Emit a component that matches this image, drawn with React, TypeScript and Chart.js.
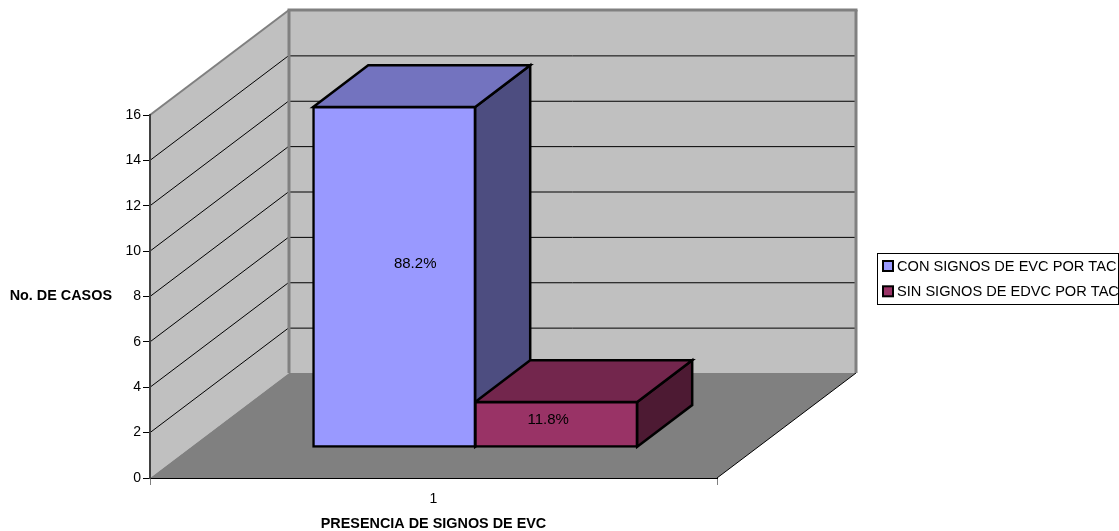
import React, { useEffect, useRef } from "react";
import { Chart, registerables } from "chart.js";

Chart.register(...registerables);

const categories = ["1"];
const conSignos = [15];
const sinSignos = [2];
const seriesNames = ["CON SIGNOS DE EVC POR TAC", "SIN SIGNOS DE EDVC POR TAC"];
const yTitle = "No. DE CASOS";
const xTitle = "PRESENCIA DE SIGNOS DE EVC";

const FONT = '"Liberation Sans", Arial, sans-serif';

// Oblique projection of the 3D box the chart sits in.
const WALL_DX = 139;
const WALL_DY = 105;
// Bars stand part way back on the floor and have their own depth.
const BAR_SHIFT_X = 41.7;
const BAR_SHIFT_Y = 30.7;
const BAR_DX = 55;
const BAR_DY = 41.7;

const faces = [
  { front: "#9999FF", top: "#7373BF", side: "#4D4D80" },
  { front: "#993366", top: "#73264D", side: "#4D1A33" },
];

// Percentage labels sit slightly off the centre of each front face.
const labelNudgeX = [21, -8];
const labelNudgeY = [-13, -5];

function poly(ctx: CanvasRenderingContext2D, pts: number[][], fill: string | null, stroke: string | null, lw = 1) {
  ctx.beginPath();
  pts.forEach(([x, y], i) => (i ? ctx.lineTo(x, y) : ctx.moveTo(x, y)));
  ctx.closePath();
  if (fill) {
    ctx.fillStyle = fill;
    ctx.fill();
  }
  if (stroke) {
    ctx.strokeStyle = stroke;
    ctx.lineWidth = lw;
    ctx.lineJoin = "miter";
    ctx.stroke();
  }
}

function line(ctx: CanvasRenderingContext2D, x0: number, y0: number, x1: number, y1: number, color: string, lw: number) {
  ctx.beginPath();
  ctx.moveTo(x0, y0);
  ctx.lineTo(x1, y1);
  ctx.strokeStyle = color;
  ctx.lineWidth = lw;
  ctx.stroke();
}

const box3d = {
  id: "box3d",
  // Walls, floor and gridlines behind the axes.
  beforeDraw(chart: any) {
    const { ctx, scales } = chart;
    const yScale = scales.y;
    const L = scales.x.left;
    const R = scales.x.right;
    const y0 = yScale.getPixelForValue(0);
    const yMax = yScale.getPixelForValue(16);
    ctx.save();
    ctx.fillStyle = "#FFFFFF";
    ctx.fillRect(0, 0, chart.width, chart.height);

    const bL = L + WALL_DX;
    const bR = R + WALL_DX;
    const bTop = yMax - WALL_DY;
    const bBot = y0 - WALL_DY;

    poly(ctx, [[L, yMax], [bL, bTop], [bL, bBot], [L, y0]], "#C0C0C0", null);
    poly(ctx, [[bL, bTop], [bR, bTop], [bR, bBot], [bL, bBot]], "#C0C0C0", null);
    poly(ctx, [[L, y0], [R, y0], [bR, bBot], [bL, bBot]], "#808080", null);
    line(ctx, R, y0, bR, bBot, "#000000", 1);

    yScale.ticks.forEach((t: any) => {
      if (t.value === 0 || t.value === 16) return;
      const y = yScale.getPixelForValue(t.value);
      line(ctx, L, y, bL, y - WALL_DY, "#000000", 1);
      line(ctx, bL, y - WALL_DY + 0.5, bR, y - WALL_DY + 0.5, "#000000", 1);
    });

    line(ctx, L, yMax, bL, bTop, "#808080", 2);
    line(ctx, bL - 1.5, bTop, bR + 1.5, bTop, "#808080", 3);
    line(ctx, bL, bTop, bL, bBot, "#808080", 3);
    line(ctx, bR, bTop, bR, bBot, "#808080", 3);
    ctx.restore();
  },
  // Side and top faces go down first; the library then paints the fronts over them.
  beforeDatasetsDraw(chart: any) {
    const { ctx } = chart;
    ctx.save();
    chart.data.datasets.forEach((_: any, i: number) => {
      chart.getDatasetMeta(i).data.forEach((bar: any) => {
        const half = bar.width / 2;
        const l = bar.x - half + BAR_SHIFT_X;
        const r = bar.x + half + BAR_SHIFT_X;
        const t = bar.y - BAR_SHIFT_Y;
        const b = bar.base - BAR_SHIFT_Y;
        poly(ctx, [[r, t], [r + BAR_DX, t - BAR_DY], [r + BAR_DX, b - BAR_DY], [r, b]], faces[i].side, "#000000", 2.5);
        poly(ctx, [[l, t], [l + BAR_DX, t - BAR_DY], [r + BAR_DX, t - BAR_DY], [r, t]], faces[i].top, "#000000", 2.5);
      });
    });
    ctx.restore();
  },
  beforeDatasetDraw(chart: any) {
    chart.ctx.save();
    chart.ctx.translate(BAR_SHIFT_X, -BAR_SHIFT_Y);
  },
  afterDatasetDraw(chart: any) {
    chart.ctx.restore();
  },
  // Percentage labels, value-axis caption and the legend box.
  afterDraw(chart: any) {
    const { ctx, data } = chart;
    const total = conSignos[0] + sinSignos[0];
    ctx.save();
    ctx.textBaseline = "middle";
    ctx.textAlign = "center";
    ctx.fillStyle = "#000000";
    ctx.font = `15px ${FONT}`;
    data.datasets.forEach((ds: any, i: number) => {
      const bar = chart.getDatasetMeta(i).data[0];
      const pct = ((ds.data[0] / total) * 100).toFixed(1) + "%";
      ctx.fillText(pct, bar.x + BAR_SHIFT_X + labelNudgeX[i], (bar.y + bar.base) / 2 - BAR_SHIFT_Y + labelNudgeY[i]);
    });

    ctx.textAlign = "right";
    ctx.font = `bold 14.4px ${FONT}`;
    ctx.fillText(yTitle, 112, 296);

    ctx.textAlign = "left";
    ctx.strokeStyle = "#000000";
    ctx.lineWidth = 1;
    ctx.strokeRect(877.5, 253.5, 241, 51);
    seriesNames.forEach((name, i) => {
      const y = 261 + i * 25.3;
      ctx.fillStyle = faces[i].front;
      ctx.fillRect(883, y, 10, 10);
      ctx.strokeStyle = "#000000";
      ctx.lineWidth = 2;
      ctx.strokeRect(883, y, 10, 10);
      ctx.fillStyle = "#000000";
      ctx.font = `14.6px ${FONT}`;
      ctx.fillText(name, 897, y + 5.5);
    });
    ctx.restore();
  },
};

export default function App() {
  const ref = useRef<HTMLCanvasElement>(null);

  useEffect(() => {
    if (!ref.current) return;
    const chart = new Chart(ref.current, {
      type: "bar",
      data: {
        labels: categories,
        datasets: [
          { label: seriesNames[0], data: conSignos, backgroundColor: faces[0].front },
          { label: seriesNames[1], data: sinSignos, backgroundColor: faces[1].front },
        ],
      },
      plugins: [box3d],
      options: {
        responsive: false,
        animation: false,
        layout: { autoPadding: false, padding: { top: 115, right: 402, left: 0, bottom: 0 } },
        elements: {
          bar: { borderWidth: 2.5, borderColor: "#000000", borderSkipped: false, inflateAmount: 1 },
        },
        datasets: { bar: { categoryPercentage: 0.5714, barPercentage: 1, clip: false } },
        plugins: { legend: { display: false }, tooltip: { enabled: false } },
        scales: {
          x: {
            afterFit: (s: any) => {
              s.height = 53;
            },
            grid: { drawOnChartArea: false, drawTicks: true, tickLength: 7, color: "#808080" },
            border: { color: "#000000", width: 1 },
            ticks: { color: "#000000", font: { family: FONT, size: 14 }, padding: 6, maxRotation: 0 },
            title: {
              display: true,
              text: xTitle,
              color: "#000000",
              font: { family: FONT, size: 14.4, weight: "bold" },
              padding: { top: 0, bottom: -2 },
            },
          },
          y: {
            min: 0,
            max: 16,
            afterFit: (s: any) => {
              s.width = 150;
            },
            grid: { drawOnChartArea: false, drawTicks: true, tickLength: 7, color: "#000000" },
            border: { color: "#404040", width: 2 },
            ticks: { stepSize: 2, color: "#000000", font: { family: FONT, size: 14 }, padding: 2 },
          },
        },
      },
    } as any);
    return () => chart.destroy();
  }, []);

  return (
    <div style={{ position: "fixed", left: 0, top: 0, width: 1119, height: 531, overflow: "hidden" }}>
      <canvas ref={ref} width={1119} height={531} style={{ display: "block" }} />
    </div>
  );
}
